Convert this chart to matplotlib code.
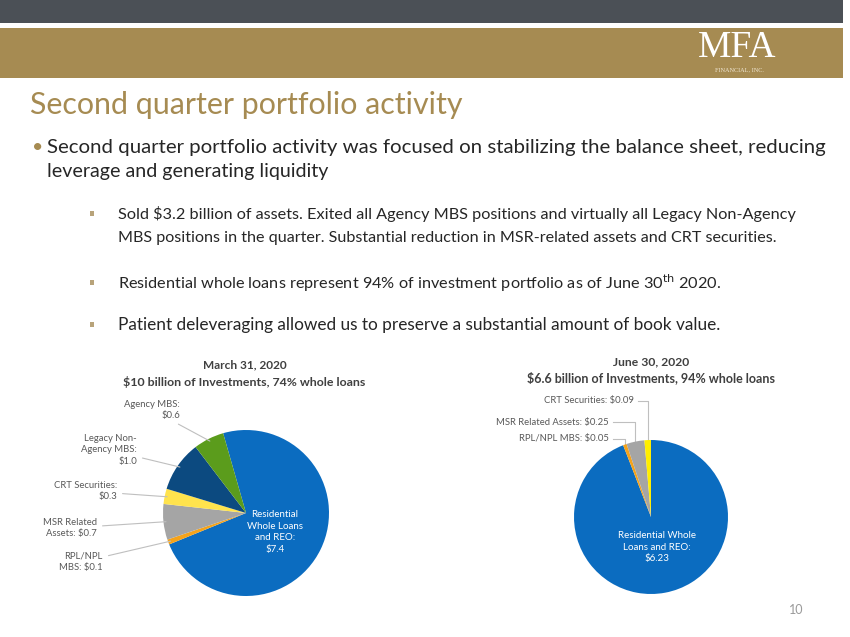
import matplotlib.pyplot as plt
import numpy as np

# ---- data ----
mar_labels = ["Residential\nWhole Loans\nand REO:\n$7.4", "RPL/NPL\nMBS: $0.1", "MSR Related\nAssets: $0.7",
              "CRT Securities:\n$0.3", "Legacy Non-\nAgency MBS:\n$1.0", "Agency MBS:\n$0.6"]
mar_values = [7.4, 0.1, 0.7, 0.3, 1.0, 0.6]
mar_colors = ["#0b6cc0", "#f5a31a", "#a5a5a5", "#ffe34d", "#0c4a80", "#5b9c1c"]

jun_labels = ["Residential Whole\nLoans and REO:\n$6.23", "RPL/NPL MBS: $0.05", "MSR Related Assets: $0.25",
              "CRT Securities: $0.09"]
jun_values = [6.23, 0.05, 0.25, 0.09]
jun_colors = ["#0b6cc0", "#f5a31a", "#a5a5a5", "#ffee00"]

W, H = 850, 637
plt.rcParams['font.family'] = ['Lato', 'DejaVu Sans']

fig = plt.figure(figsize=(W / 100, H / 100), dpi=100)
bg = fig.add_axes([0, 0, 1, 1])
bg.set_xlim(0, W)
bg.set_ylim(H, 0)
bg.axis('off')

GOLD = "#a68b52"
# header bands
bg.add_patch(plt.Rectangle((0, 0), 843, 23, color="#4b5056", lw=0))
bg.add_patch(plt.Rectangle((0, 28), 843, 50, color=GOLD, lw=0))
bg.text(737, 65, "MFA", family="Liberation Serif", color="white", fontsize=27, ha="center", va="bottom")
bg.text(740, 67, "FINANCIAL, INC.", family="Liberation Serif", color="#efe6d2", fontsize=4.5, ha="center",
        va="top")

r = fig.canvas.get_renderer()


def fit(x0, x1, y, s, size, ha="left", **kw):
    t = bg.text(x0 if ha == "left" else (x0 + x1) / 2, y, s, fontsize=size, va="center", ha=ha, **kw)
    w = t.get_window_extent(renderer=r).width
    t.set_fontsize(size * (x1 - x0) / w)
    return t


fit(30, 462, 105, "Second quarter portfolio activity", 18, color=GOLD)

TXT = "#262626"
bg.text(38, 148, "•", color=GOLD, fontsize=14, va="center", ha="center")
fit(47, 828, 147, "Second quarter portfolio activity was focused on stabilizing the balance sheet, reducing", 12.5,
    color=TXT)
fit(47, 329, 172, "leverage and generating liquidity", 12.5, color=TXT)

subs = [(214, "Sold $3.2 billion of assets. Exited all Agency MBS positions and virtually all Legacy Non-Agency", 795),
        (238, "MBS positions in the quarter. Substantial reduction in MSR-related assets and CRT securities.", 777),
        (283, "Residential whole loans represent 94% of investment portfolio as of June 30$^{\\mathrm{th}}$ 2020.", 718),
        (325, "Patient deleveraging allowed us to preserve a substantial amount of book value.", 720)]
for y, s, x1 in subs:
    if not s.startswith("MBS positions"):
        bg.add_patch(plt.Rectangle((90, y - 3), 4.5, 5, color="#b8a37a", lw=0))
    fit(118, x1, y, s, 11, color=TXT)

bg.text(796, 610, "10", color="#9a9a9a", fontsize=9, ha="center", va="center")


def pie_axes(cx, cy, rad):
    ax = fig.add_axes([(cx - rad) / W, 1 - (cy + rad) / H, 2 * rad / W, 2 * rad / H])
    return ax


LBL = "#595959"
TTL = "#404040"

# ---- March pie ----
ax1 = pie_axes(246, 513, 83)
w1, _ = ax1.pie(mar_values, colors=mar_colors, startangle=106, counterclock=False,
                wedgeprops=dict(linewidth=0))
ax1.set_xlim(-1, 1)
ax1.set_ylim(-1, 1)
fit(203, 287, 365, "March 31, 2020", 9, ha="center", weight="bold", color=TTL)
fit(123, 365, 382, "$10 billion of Investments, 74% whole loans", 9, ha="center", weight="bold", color=TTL)
ax1.text(0.35, -0.23, mar_labels[0], color="white", fontsize=7, ha="center", va="center", linespacing=1.35)

mar_pos = [None, (103, 562), (97, 528), (117, 491), (137, 450), (180, 410)]
for i in range(1, len(mar_values)):
    wd = w1[i]
    th = np.deg2rad((wd.theta1 + wd.theta2) / 2)
    ax1.annotate(mar_labels[i], xy=(0.97 * np.cos(th), 0.97 * np.sin(th)), xytext=mar_pos[i],
                 textcoords=bg.transData, ha="right", va="center", fontsize=6.8, color=LBL,
                 linespacing=1.3, annotation_clip=False,
                 arrowprops=dict(arrowstyle="-", color="#bfbfbf", lw=0.8, shrinkA=2, shrinkB=0))

# ---- June pie ----
ax2 = pie_axes(651, 517, 77)
w2, _ = ax2.pie(jun_values, colors=jun_colors, startangle=90, counterclock=False,
                wedgeprops=dict(linewidth=0))
ax2.set_xlim(-1, 1)
ax2.set_ylim(-1, 1)
fit(613, 689, 362, "June 30, 2020", 9, ha="center", weight="bold", color=TTL)
fit(527, 775, 378, "$6.6 billion of Investments, 94% whole loans", 9, ha="center", weight="bold", color=TTL)
ax2.text(0.08, -0.39, jun_labels[0], color="white", fontsize=7, ha="center", va="center", linespacing=1.35)

jun_pos = [None, (609, 439), (609, 422), (634, 401)]
for i in range(1, len(jun_values)):
    wd = w2[i]
    th = np.deg2rad((wd.theta1 + wd.theta2) / 2)
    px, py = bg.transData.inverted().transform(ax2.transData.transform((np.cos(th), np.sin(th))))
    tx, ty = jun_pos[i]
    bg.text(tx, ty, jun_labels[i], ha="right", va="center", fontsize=6.8, color=LBL)
    bg.plot([tx + 4, px, px], [ty, ty, py], color="#bfbfbf", lw=0.8)

fig.savefig("out.png", dpi=100)
